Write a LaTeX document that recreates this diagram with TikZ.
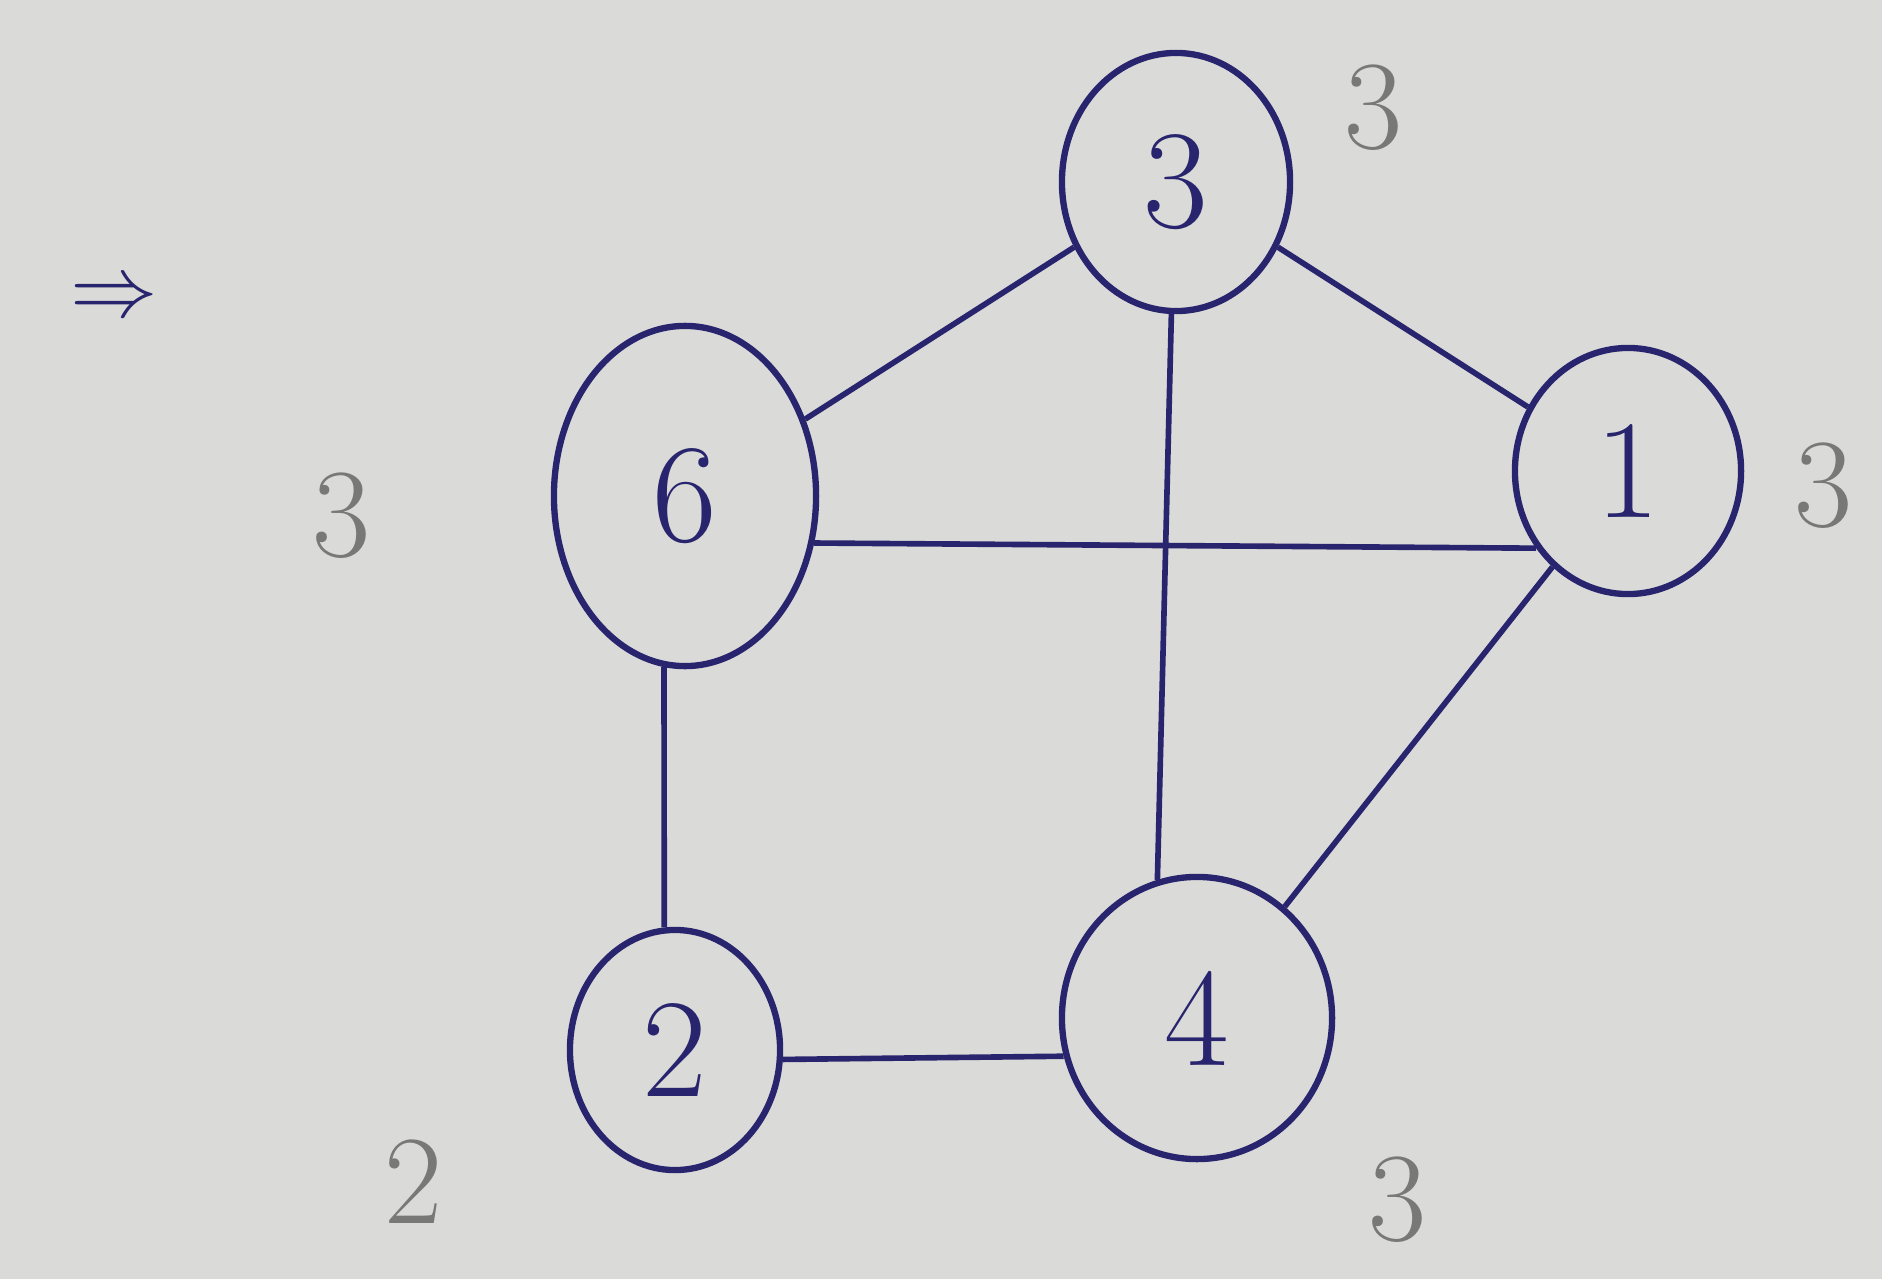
\documentclass[tikz,border=0pt]{standalone}
\usetikzlibrary{shapes.geometric}
\definecolor{paper}{RGB}{218,218,216}
\definecolor{ink}{RGB}{40,36,110}
\definecolor{pencil}{RGB}{120,120,118}
\begin{document}
\begin{tikzpicture}[x=0.01cm,y=-0.01cm,
  vert/.style={draw=ink,line width=1.8pt,ellipse,inner sep=0pt,text=ink,font=\fontsize{40}{40}\selectfont},
  edge/.style={draw=ink,line width=1.6pt},
  deg/.style={text=pencil,font=\fontsize{36}{36}\selectfont}]
\fill[paper] (0,0) rectangle (1882,1279);
\useasboundingbox (0,0) rectangle (1882,1279);
\node[vert,minimum width=2.28cm,minimum height=2.58cm] (n3) at (1176,182) {3};
\node[vert,minimum width=2.62cm,minimum height=3.40cm] (n6) at (685,496) {6};
\node[vert,minimum width=2.26cm,minimum height=2.46cm] (n1) at (1628,471) {1};
\node[vert,minimum width=2.10cm,minimum height=2.40cm] (n2) at (675,1050) {2};
\node[vert,minimum width=2.70cm,minimum height=2.82cm] (n4) at (1197,1018) {4};
\draw[edge] (n3) -- (n6);
\draw[edge] (n3) -- (n1);
\draw[edge] (n3.-92) -- (n4.106);
\draw[edge] (n6.-20) -- (n1.-140);
\draw[edge] (n6.-97) -- (n2.95);
\draw[edge] (n2.-5) -- (n4.-164);
\draw[edge] (n1) -- (n4);
\node[deg] (d3) at (1374,108) {3};
\node[deg] (d6) at (342,516) {3};
\node[deg] (d1) at (1824,486) {3};
\node[deg] (d2) at (414,1182) {2};
\node[deg] (d4) at (1398,1200) {3};
\node[text=ink,font=\fontsize{40}{40}\selectfont] (arr) at (114,300) {$\Rightarrow$};
\end{tikzpicture}
\end{document}
